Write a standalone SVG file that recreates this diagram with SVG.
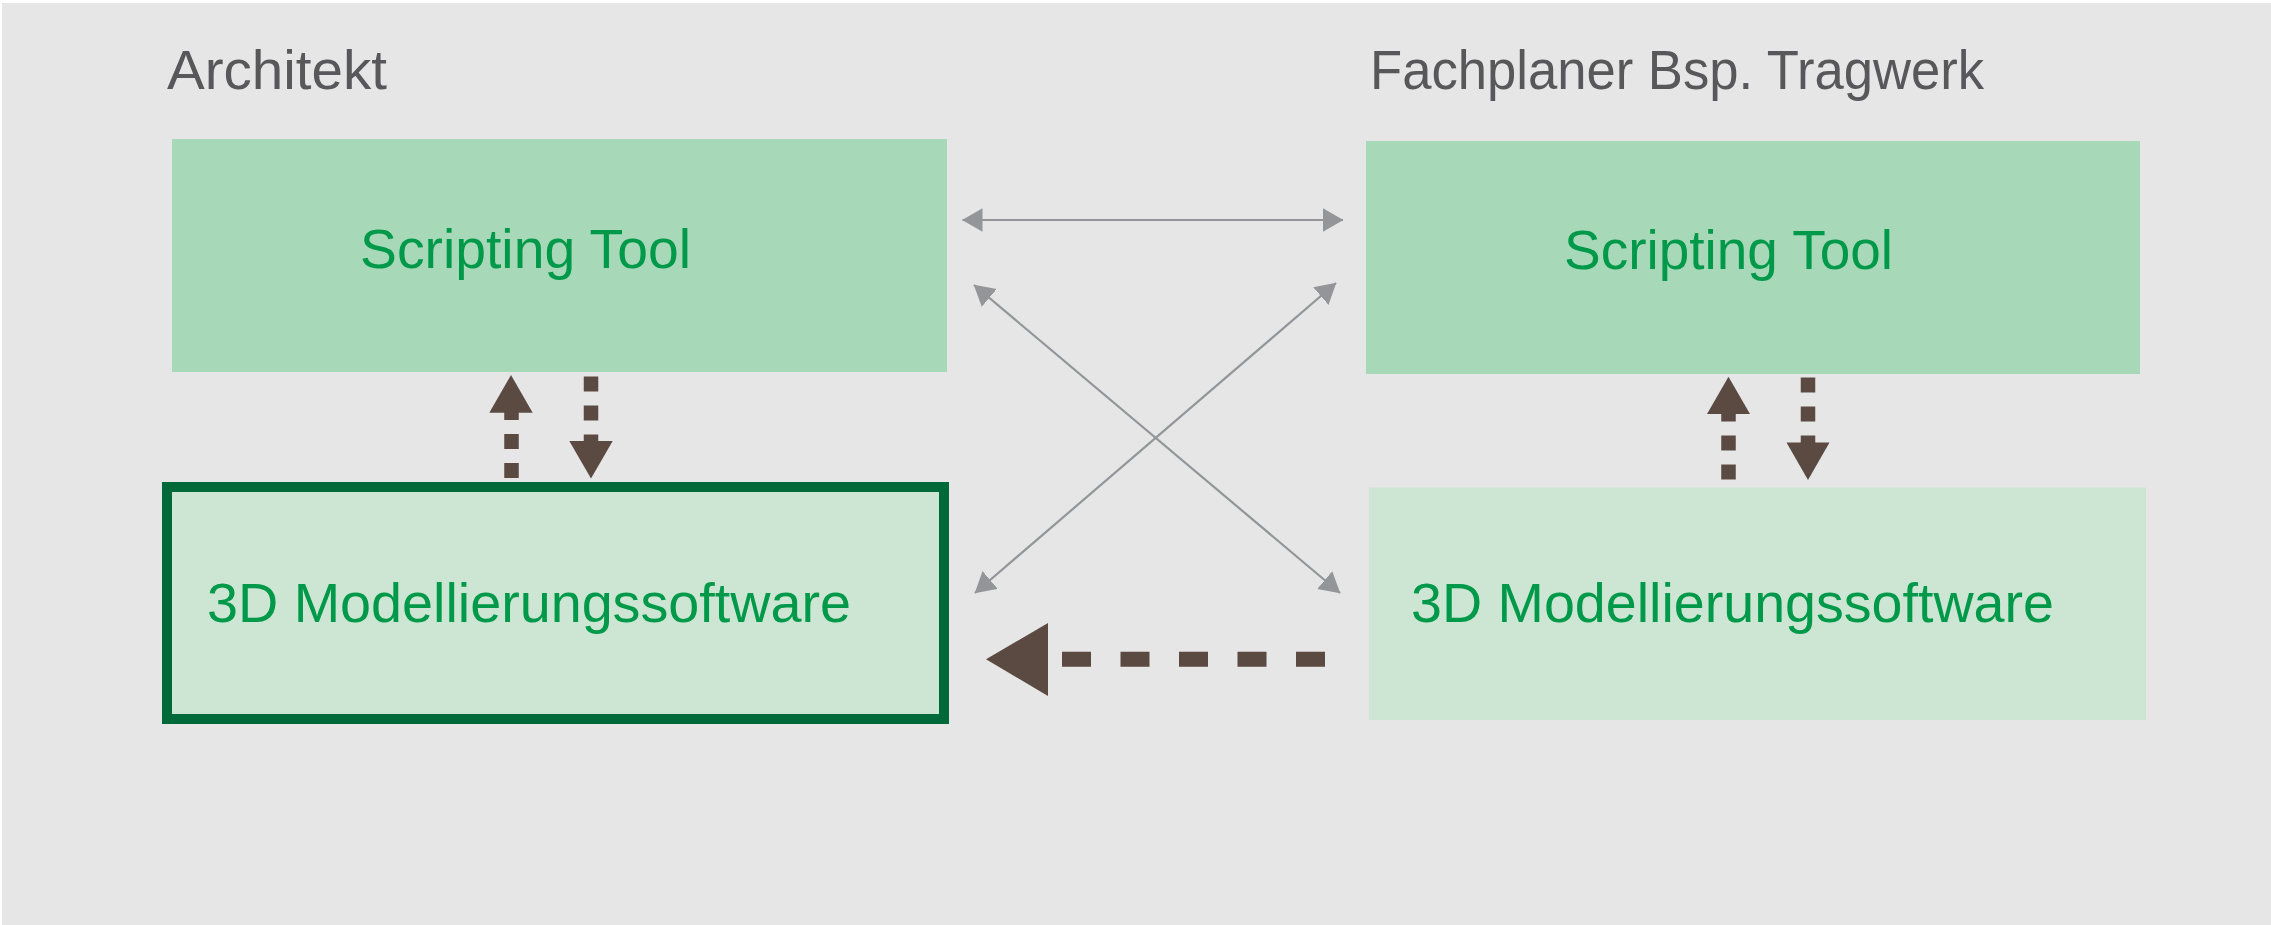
<svg xmlns="http://www.w3.org/2000/svg" width="2271" height="925" viewBox="0 0 2271 925">
<defs>
<style>
.bg{fill:#e6e6e6}
.st{fill:#a7d8b8}
.md{fill:#cde6d3}
.sel{stroke:#00693a;stroke-width:10}
.hd{font-family:"Liberation Sans",Arial,sans-serif;font-size:56px;fill:#58585a}
.lbl{font-family:"Liberation Sans",Arial,sans-serif;font-size:56px;fill:#00994a}
.thin{stroke:#939598;stroke-width:2.2;fill:none}
.dv{stroke:#5b4a42;stroke-width:14.5;fill:none;stroke-dasharray:15 14}
.dh{stroke:#5b4a42;stroke-width:15;fill:none;stroke-dasharray:29 29.5}
.head{fill:#5b4a42}
</style>
<marker id="ga" markerUnits="userSpaceOnUse" markerWidth="21" markerHeight="24" viewBox="0 0 21 24" refX="20" refY="12" orient="auto-start-reverse">
<path d="M0,0.3 L20.4,12 L0,23.7 Z" fill="#939598"/>
</marker>
</defs>
<rect class="bg" x="2" y="3" width="2269" height="922"/>
<text class="hd" x="167" y="89" textLength="220" lengthAdjust="spacingAndGlyphs">Architekt</text>
<text class="hd" x="1370" y="89" textLength="614" lengthAdjust="spacingAndGlyphs">Fachplaner Bsp. Tragwerk</text>
<g id="arch-script">
<rect class="st" x="172" y="139" width="775" height="233"/>
<text class="lbl" x="360" y="268" textLength="331" lengthAdjust="spacingAndGlyphs">Scripting Tool</text>
</g>
<g id="arch-model">
<rect class="md sel" x="167" y="487" width="777" height="232"/>
<text class="lbl" x="207" y="622" textLength="644" lengthAdjust="spacingAndGlyphs">3D Modellierungssoftware</text>
</g>
<g id="fach-script">
<rect class="st" x="1366" y="141" width="774" height="233"/>
<text class="lbl" x="1564" y="269" textLength="329" lengthAdjust="spacingAndGlyphs">Scripting Tool</text>
</g>
<g id="fach-model">
<rect class="md" x="1369" y="487.5" width="777" height="232.5"/>
<text class="lbl" x="1411" y="622" textLength="643" lengthAdjust="spacingAndGlyphs">3D Modellierungssoftware</text>
</g>
<g id="connectors">
<line class="thin" x1="962.5" y1="220" x2="1343" y2="220" marker-start="url(#ga)" marker-end="url(#ga)"/>
<line class="thin" x1="974" y1="285" x2="1340" y2="593" marker-start="url(#ga)" marker-end="url(#ga)"/>
<line class="thin" x1="975" y1="593" x2="1336" y2="283" marker-start="url(#ga)" marker-end="url(#ga)"/>
<line class="dv" x1="511.5" y1="478" x2="511.5" y2="412"/>
<polygon class="head" points="511,375 532.7,412.7 489.3,412.7"/>
<line class="dv" x1="591" y1="376.5" x2="591" y2="442"/>
<polygon class="head" points="569.3,441 612.7,441 591,478.5"/>
<line class="dv" x1="1728.5" y1="479.5" x2="1728.5" y2="414"/>
<polygon class="head" points="1728.5,376.8 1750,414 1707,414"/>
<line class="dv" x1="1808" y1="377.5" x2="1808" y2="443"/>
<polygon class="head" points="1786.5,442.5 1829.5,442.5 1808,480"/>
<line class="dh" x1="1325" y1="659.3" x2="1062" y2="659.3"/>
<polygon class="head" points="986,659.3 1048,623 1048,696"/>
</g>
</svg>
